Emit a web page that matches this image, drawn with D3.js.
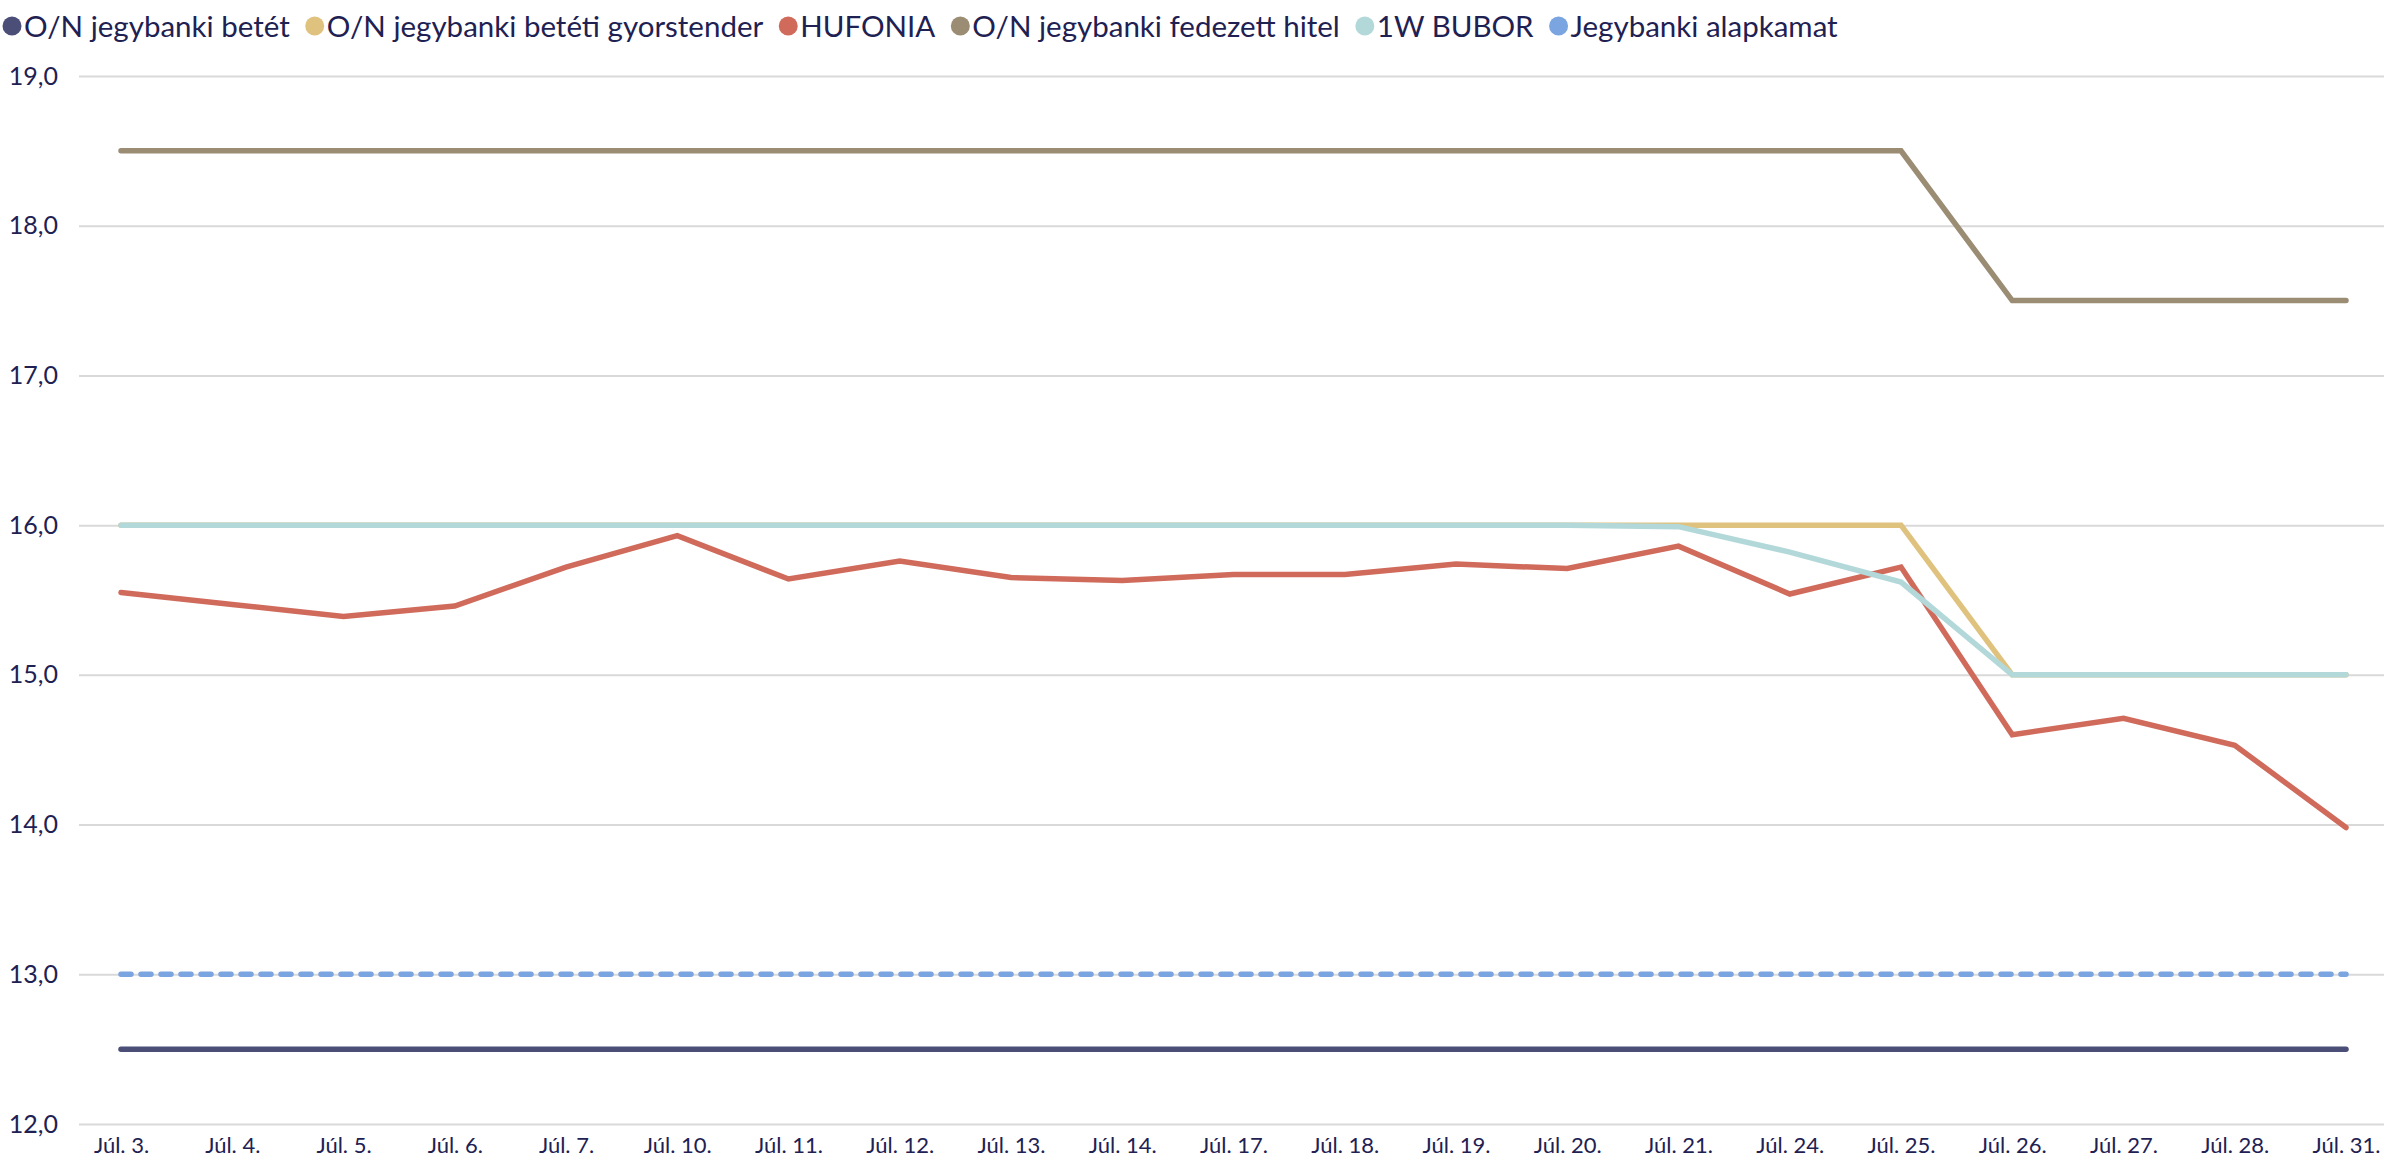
<!DOCTYPE html>
<html>
<head>
<meta charset="utf-8">
<script src="https://cdn.jsdelivr.net/npm/d3@7"></script>
<style>
  body { margin: 0; background: #fff; }
  svg { display: block; font-family: Lato, "Open Sans", sans-serif; }
</style>
</head>
<body>
<div id="chart"></div>
<script>
// categories (trading days, July)
var days = ["Júl. 3.", "Júl. 4.", "Júl. 5.", "Júl. 6.", "Júl. 7.", "Júl. 10.", "Júl. 11.",
  "Júl. 12.", "Júl. 13.", "Júl. 14.", "Júl. 17.", "Júl. 18.", "Júl. 19.", "Júl. 20.",
  "Júl. 21.", "Júl. 24.", "Júl. 25.", "Júl. 26.", "Júl. 27.", "Júl. 28.", "Júl. 31."];

// series values (%)
var onBetet      = [12.5,12.5,12.5,12.5,12.5,12.5,12.5,12.5,12.5,12.5,12.5,12.5,12.5,12.5,12.5,12.5,12.5,12.5,12.5,12.5,12.5];
var gyorstender  = [16,16,16,16,16,16,16,16,16,16,16,16,16,16,16,16,16,15,15,15,15];
var hufonia      = [15.55,15.47,15.39,15.46,15.72,15.93,15.64,15.76,15.65,15.63,15.67,15.67,15.74,15.71,15.86,15.54,15.72,14.60,14.71,14.53,13.98];
var fedezett     = [18.5,18.5,18.5,18.5,18.5,18.5,18.5,18.5,18.5,18.5,18.5,18.5,18.5,18.5,18.5,18.5,18.5,17.5,17.5,17.5,17.5];
var bubor        = [16,16,16,16,16,16,16,16,16,16,16,16,16,16,15.99,15.82,15.62,15.0,15.0,15.0,15.0];
var alapkamat    = [13,13,13,13,13,13,13,13,13,13,13,13,13,13,13,13,13,13,13,13,13];

var yTicks = [12, 13, 14, 15, 16, 17, 18, 19];

var series = [
  {name: "O/N jegybanki betét", values: onBetet, color: "#4b4e77"},
  {name: "O/N jegybanki betéti gyorstender", values: gyorstender, color: "#e0c27f"},
  {name: "HUFONIA", values: hufonia, color: "#d06b5c"},
  {name: "O/N jegybanki fedezett hitel", values: fedezett, color: "#9b8d73"},
  {name: "1W BUBOR", values: bubor, color: "#b3d8d9"},
  {name: "Jegybanki alapkamat", values: alapkamat, color: "#7ba5e0", dash: "10,10"}
];

var W = 2384, H = 1163;
var textColor = "#1e2152";
var gridLeft = 79, gridRight = 2384;

var svg = d3.select("#chart").append("svg")
    .attr("width", W)
    .attr("height", H);

// scales
var x = d3.scalePoint().domain(days).range([121, 2346]);
var y = d3.scaleLinear().domain([12, 19]).range([1124, 76]);

var huLocale = d3.formatLocale({decimal: ",", thousands: " ", grouping: [3], currency: ["", " Ft"]});
var fmt = huLocale.format(".1f");

// y axis + gridlines
var yAxis = svg.append("g")
    .attr("transform", "translate(" + gridLeft + ",0)")
    .call(d3.axisLeft(y).tickValues(yTicks).tickFormat(fmt)
      .tickSizeInner(-(gridRight - gridLeft)).tickSizeOuter(0).tickPadding(21));
yAxis.select(".domain").remove();
yAxis.selectAll(".tick line").attr("stroke", "#d9d9d9").attr("stroke-width", 2);
yAxis.selectAll(".tick text")
    .attr("fill", textColor)
    .style("font-size", "25px")
    .style("font-family", "Lato, sans-serif");

// x axis labels
var xAxis = svg.append("g")
    .attr("transform", "translate(0," + y(12) + ")")
    .call(d3.axisBottom(x).tickSize(0).tickPadding(13));
xAxis.select(".domain").remove();
xAxis.selectAll(".tick text")
    .attr("fill", textColor)
    .style("font-size", "22px")
    .style("font-family", "Lato, sans-serif");

// lines
var line = d3.line()
    .x(function(d, i) { return x(days[i]); })
    .y(function(d) { return y(d); });

svg.append("g").selectAll("path")
  .data(series)
  .enter().append("path")
    .attr("d", function(d) { return line(d.values); })
    .attr("fill", "none")
    .attr("stroke", function(d) { return d.color; })
    .attr("stroke-width", 5.5)
    .attr("stroke-linecap", "round")
    .attr("stroke-linejoin", "miter")
    .attr("stroke-dasharray", function(d) { return d.dash || null; });

// legend
var legend = svg.append("g").attr("transform", "translate(0,26)");
var lx = 12;
series.forEach(function(s) {
  var item = legend.append("g").attr("transform", "translate(" + lx + ",0)");
  item.append("circle").attr("cx", 0).attr("cy", 0).attr("r", 9.5).attr("fill", s.color);
  var t = item.append("text")
      .attr("x", 12)
      .attr("dy", "0.36em")
      .attr("fill", textColor)
      .style("font-size", "29.5px")
      .text(s.name);
  lx += 12 + t.node().getComputedTextLength() + 25;
});
</script>
</body>
</html>
